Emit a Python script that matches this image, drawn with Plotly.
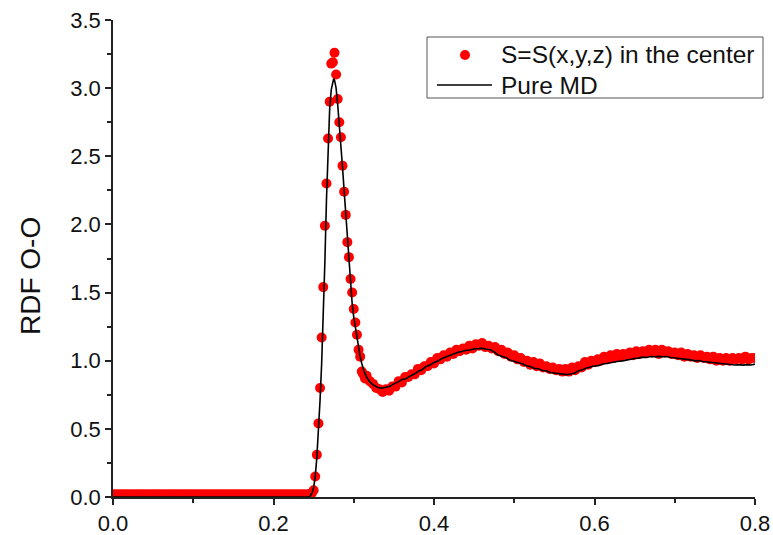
import numpy as np
import plotly.graph_objects as go

# --- Pure MD reference curve (O-O radial distribution function) ---
md_r = [0.000, 0.240, 0.244, 0.246, 0.248, 0.250, 0.252, 0.254, 0.256, 0.258,
        0.260, 0.262, 0.264, 0.266, 0.268, 0.270, 0.272, 0.274, 0.275, 0.276,
        0.278, 0.280, 0.282, 0.284, 0.286, 0.288, 0.290, 0.292, 0.294, 0.296,
        0.298, 0.300, 0.302, 0.304, 0.306, 0.308, 0.310, 0.313, 0.316, 0.320,
        0.325, 0.330, 0.335, 0.340, 0.345, 0.350, 0.355, 0.360, 0.365, 0.370,
        0.375, 0.380, 0.385, 0.390, 0.395, 0.400, 0.405, 0.410, 0.415, 0.420,
        0.425, 0.430, 0.435, 0.440, 0.445, 0.450, 0.455, 0.460, 0.465, 0.470,
        0.475, 0.480, 0.485, 0.490, 0.495, 0.500, 0.505, 0.510, 0.515, 0.520,
        0.525, 0.530, 0.535, 0.540, 0.545, 0.550, 0.555, 0.560, 0.565, 0.570,
        0.575, 0.580, 0.585, 0.590, 0.595, 0.600, 0.605, 0.610, 0.615, 0.620,
        0.625, 0.630, 0.635, 0.640, 0.645, 0.650, 0.655, 0.660, 0.665, 0.670,
        0.675, 0.680, 0.685, 0.690, 0.695, 0.700, 0.705, 0.710, 0.715, 0.720,
        0.725, 0.730, 0.735, 0.740, 0.745, 0.750, 0.755, 0.760, 0.765, 0.770,
        0.775, 0.780, 0.785, 0.790, 0.795, 0.800]
md_g = [0.000, 0.000, 0.000, 0.010, 0.030, 0.070, 0.150, 0.290, 0.480, 0.710,
        0.980, 1.320, 1.720, 2.180, 2.580, 2.850, 2.990, 3.060, 3.070, 3.060,
        3.000, 2.880, 2.740, 2.580, 2.420, 2.250, 2.080, 1.900, 1.720, 1.550,
        1.420, 1.320, 1.240, 1.170, 1.090, 1.030, 0.980, 0.920, 0.880, 0.845,
        0.820, 0.803, 0.798, 0.806, 0.812, 0.830, 0.843, 0.862, 0.868, 0.887,
        0.900, 0.921, 0.933, 0.957, 0.968, 0.987, 0.998, 1.017, 1.028, 1.042,
        1.048, 1.062, 1.068, 1.077, 1.079, 1.087, 1.088, 1.092, 1.084, 1.081,
        1.064, 1.042, 1.031, 1.022, 1.003, 0.996, 0.984, 0.977, 0.963, 0.957,
        0.944, 0.941, 0.928, 0.926, 0.914, 0.911, 0.903, 0.901, 0.898, 0.903,
        0.909, 0.926, 0.933, 0.946, 0.954, 0.961, 0.964, 0.976, 0.979, 0.986,
        0.989, 0.996, 0.999, 1.006, 1.008, 1.016, 1.019, 1.026, 1.024, 1.031,
        1.029, 1.032, 1.029, 1.031, 1.024, 1.021, 1.014, 1.011, 1.008, 1.006,
        0.999, 1.001, 0.994, 0.991, 0.984, 0.981, 0.979, 0.976, 0.974, 0.972,
        0.969, 0.971, 0.968, 0.971, 0.969, 0.975]

# --- S = S(x,y,z) in the center: sampled RDF points ---
# flat region before the first shell, sampled every 0.004 nm
flat_r0, flat_dr = 0.000, 0.004
flat_g = [0.02] * 62

# first peak, sampled every 0.002 nm
peak_r0, peak_dr = 0.246, 0.002
peak_g = [0.02, 0.03, 0.05, 0.15, 0.31, 0.54, 0.80, 1.17, 1.54, 1.99,
          2.30, 2.63, 2.90, 3.18, 3.19, 3.26, 3.10, 2.92, 2.75, 2.64,
          2.43, 2.24, 2.07, 1.87, 1.76, 1.60, 1.50, 1.38, 1.28, 1.19,
          1.08, 1.03, 0.92, 0.90, 0.87]

# long-range tail, sampled every 0.004 nm
tail_r0, tail_dr = 0.316, 0.004
tail_g = [0.89, 0.85, 0.83, 0.80, 0.79, 0.77, 0.79, 0.78, 0.81, 0.81,
          0.85, 0.84, 0.88, 0.88, 0.90, 0.90, 0.94, 0.93, 0.96, 0.96,
          0.99, 0.98, 1.02, 1.01, 1.04, 1.03, 1.06, 1.05, 1.08, 1.07,
          1.09, 1.08, 1.11, 1.09, 1.12, 1.11, 1.13, 1.10, 1.11, 1.09,
          1.10, 1.07, 1.08, 1.05, 1.06, 1.03, 1.04, 1.01, 1.02, 0.99,
          1.00, 0.97, 0.99, 0.96, 0.98, 0.95, 0.96, 0.94, 0.95, 0.93,
          0.94, 0.92, 0.94, 0.92, 0.95, 0.93, 0.96, 0.95, 0.99, 0.97,
          1.00, 0.99, 1.01, 1.00, 1.03, 1.01, 1.04, 1.02, 1.05, 1.03,
          1.05, 1.04, 1.06, 1.04, 1.07, 1.05, 1.07, 1.06, 1.08, 1.06,
          1.08, 1.05, 1.08, 1.06, 1.07, 1.05, 1.06, 1.04, 1.06, 1.03,
          1.05, 1.03, 1.04, 1.02, 1.04, 1.02, 1.03, 1.01, 1.03, 1.00,
          1.02, 1.00, 1.02, 1.00, 1.02, 1.01, 1.02, 1.01, 1.03, 1.01,
          1.02, 1.02]

x_ticks = [0.0, 0.2, 0.4, 0.6, 0.8]
y_ticks = [0.0, 0.5, 1.0, 1.5, 2.0, 2.5, 3.0, 3.5]

series_names = ["S=S(x,y,z) in the center", "Pure MD"]

pts_r = np.concatenate([
    flat_r0 + flat_dr * np.arange(len(flat_g)),
    peak_r0 + peak_dr * np.arange(len(peak_g)),
    tail_r0 + tail_dr * np.arange(len(tail_g)),
])
pts_g = np.array(flat_g + peak_g + tail_g)

FONT = "Liberation Sans, Arial, sans-serif"
W, H = 773, 535
ML, MR, MT, MB = 113, 18, 20, 38
PW, PH = W - ML - MR, H - MT - MB
RED = "#ff0000"


def px(x):
    """Horizontal pixel position -> paper fraction."""
    return (x - ML) / PW


def py(y):
    """Vertical pixel position (from top) -> paper fraction."""
    return (H - MB - y) / PH


fig = go.Figure()
fig.add_trace(go.Scatter(
    x=pts_r, y=pts_g, mode="markers", name=series_names[0],
    marker=dict(color=RED, size=10, line=dict(width=0)),
))
fig.add_trace(go.Scatter(
    x=md_r, y=md_g, mode="lines", name=series_names[1],
    line=dict(color="#000000", width=1.6),
))

axis_common = dict(
    showgrid=False, zeroline=False, showline=True, linecolor="#222222",
    linewidth=1.5, ticks="outside", ticklen=6, tickwidth=1.5,
    tickcolor="#222222", tickformat=".1f", automargin=False,
    tickfont=dict(family=FONT, size=22, color="#111111"),
)

fig.update_xaxes(
    range=[0, 0.8], tickvals=x_ticks,
    minor=dict(ticks="outside", dtick=0.1, ticklen=4, tickwidth=1.5,
               tickcolor="#222222"),
    **axis_common,
)
fig.update_yaxes(
    range=[0, 3.5], tickvals=y_ticks,
    minor=dict(ticks="outside", dtick=0.25, ticklen=4, tickwidth=1.5,
               tickcolor="#222222"),
    **axis_common,
)

# y-axis title
annotations = [dict(
    text="RDF O-O", xref="paper", yref="paper", x=px(30), y=py(276),
    xanchor="center", yanchor="middle", textangle=-90, showarrow=False,
    font=dict(family=FONT, size=28, color="#111111"),
)]

# legend box with its two entries
leg_x0, leg_x1, leg_y0, leg_y1 = 427, 763, 37, 98
row_y = [55, 85]
text_x = 499
shapes = [
    dict(type="rect", xref="paper", yref="paper",
         x0=px(leg_x0), x1=px(leg_x1), y0=py(leg_y1), y1=py(leg_y0),
         line=dict(color="#555555", width=1), fillcolor="white", layer="above"),
    dict(type="circle", xref="paper", yref="paper",
         x0=px(465 - 5), x1=px(465 + 5), y0=py(row_y[0] + 5), y1=py(row_y[0] - 5),
         line=dict(width=0), fillcolor=RED, layer="above"),
    dict(type="line", xref="paper", yref="paper",
         x0=px(437), x1=px(492), y0=py(row_y[1]), y1=py(row_y[1]),
         line=dict(color="#000000", width=1.6), layer="above"),
]
for name, ry in zip(series_names, row_y):
    annotations.append(dict(
        text=name, xref="paper", yref="paper", x=px(text_x), y=py(ry),
        xanchor="left", yanchor="middle", showarrow=False,
        font=dict(family=FONT, size=24.5, color="#111111"),
    ))

fig.update_layout(
    width=W, height=H,
    margin=dict(l=ML, r=MR, t=MT, b=MB),
    plot_bgcolor="white", paper_bgcolor="white",
    showlegend=False,
    shapes=shapes, annotations=annotations,
)

fig.write_html("out.html")
